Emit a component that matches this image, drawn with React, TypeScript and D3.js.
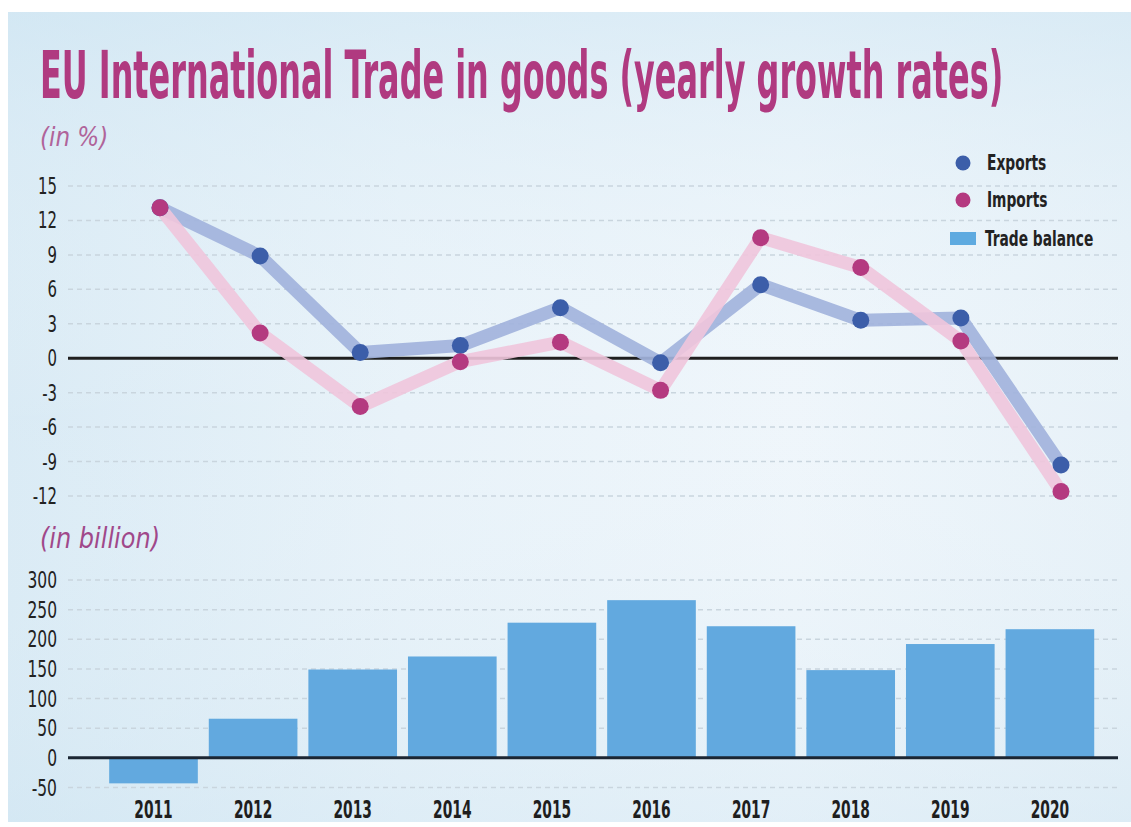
import React, { useLayoutEffect, useRef, useState } from "react";
import * as d3 from "d3";

const years = ["2011", "2012", "2013", "2014", "2015", "2016", "2017", "2018", "2019", "2020"];
const exportsGrowth = [13.1, 8.9, 0.5, 1.1, 4.4, -0.4, 6.4, 3.3, 3.5, -9.3];
const importsGrowth = [13.1, 2.2, -4.2, -0.3, 1.4, -2.8, 10.5, 7.9, 1.5, -11.6];
const tradeBalance = [-43, 66, 149, 171, 228, 266, 222, 148, 192, 217];
const topTicks = [15, 12, 9, 6, 3, 0, -3, -6, -9, -12];
const bottomTicks = [300, 250, 200, 150, 100, 50, 0, -50];

const W = 1131;
const H = 827;
const FONT = "'Liberation Sans Narrow','DejaVu Sans Condensed','Arial Narrow',sans-serif";

type STProps = {
  x: number;
  y: number;
  sx: number;
  anchor?: "start" | "middle" | "end";
  size: number;
  weight?: string;
  italic?: boolean;
  fill: string;
  children: React.ReactNode;
};

function SText({ x, y, sx, anchor = "start", size, weight, italic, fill, children }: STProps) {
  return (
    <text
      transform={`translate(${x},${y}) scale(${sx},1)`}
      textAnchor={anchor}
      fontFamily={FONT}
      fontSize={size}
      fontWeight={weight || "normal"}
      fontStyle={italic ? "italic" : "normal"}
      fill={fill}
    >
      {children}
    </text>
  );
}

function Title() {
  const ref = useRef<SVGTextElement>(null);
  const [sx, setSx] = useState(0.5);
  const target = 963;
  useLayoutEffect(() => {
    if (ref.current) {
      const w = ref.current.getComputedTextLength();
      if (w > 0) setSx(target / w);
    }
  }, []);
  return (
    <text
      ref={ref}
      transform={`translate(40,98) scale(${sx},1)`}
      fontFamily={FONT}
      fontWeight="bold"
      fontSize={66}
      fill="#b03a80"
    >
      EU International Trade in goods (yearly growth rates)
    </text>
  );
}

export default function App() {
  const yTop = d3.scaleLinear().domain([-12, 15]).range([496, 186]);
  const yBot = d3.scaleLinear().domain([-50, 300]).range([787.5, 580]);
  const xPoint = d3.scalePoint<string>().domain(years).range([160, 1061]);
  const xBand = d3
    .scaleBand<string>()
    .domain(years)
    .range([103.7, 1099.7])
    .paddingInner(0.11)
    .paddingOuter(0.055);

  const gridX0 = 68;
  const gridX1 = 1118;

  const line = d3
    .line<number>()
    .x((_, i) => xPoint(years[i]) as number)
    .y((d) => yTop(d));

  return (
    <svg
      width={W}
      height={H}
      style={{ position: "absolute", left: 0, top: 0, background: "#ffffff" }}
    >
      <defs>
        <linearGradient id="bg" x1="0" y1="0" x2="1" y2="0">
          <stop offset="0" stopColor="#d3e7f3" />
          <stop offset="0.35" stopColor="#e4f0f8" />
          <stop offset="0.7" stopColor="#ecf4fa" />
          <stop offset="1" stopColor="#e3eff7" />
        </linearGradient>
        <linearGradient id="bgv" x1="0" y1="0" x2="0" y2="1">
          <stop offset="0" stopColor="#d3e8f4" stopOpacity="0.6" />
          <stop offset="0.5" stopColor="#ffffff" stopOpacity="0.15" />
          <stop offset="1" stopColor="#d6e9f4" stopOpacity="0.45" />
        </linearGradient>
      </defs>
      <rect x={8} y={12} width={W - 8} height={810} fill="url(#bg)" />
      <rect x={8} y={12} width={W - 8} height={810} fill="url(#bgv)" />

      {/* Title */}
      <Title />
      <SText x={40} y={146} sx={0.95} size={27} italic fill="#b0649a">
        (in %)
      </SText>

      {/* Top grid */}
      {topTicks
        .filter((t) => t !== 0)
        .map((t) => (
          <line
            key={"tg" + t}
            x1={gridX0}
            x2={gridX1}
            y1={yTop(t)}
            y2={yTop(t)}
            stroke="#c9d5de"
            strokeWidth={1.5}
            strokeDasharray="5 4"
          />
        ))}
      {topTicks.map((t) => (
        <SText key={"tl" + t} x={57} y={yTop(t) + 8} sx={0.72} anchor="end" size={23} fill="#222">
          {t}
        </SText>
      ))}
      <line x1={gridX0} x2={gridX1} y1={yTop(0)} y2={yTop(0)} stroke="#1f1f1f" strokeWidth={3} />

      {/* Lines */}
      <path
        d={line(exportsGrowth) || ""}
        fill="none"
        stroke="#a2b3dc"
        strokeWidth={13}
        strokeLinejoin="round"
        opacity={0.92}
      />
      <path
        d={line(importsGrowth) || ""}
        fill="none"
        stroke="#f0c5db"
        strokeWidth={13}
        strokeLinejoin="round"
        opacity={0.9}
      />
      {exportsGrowth.map((v, i) => (
        <circle key={"ed" + i} cx={xPoint(years[i])} cy={yTop(v)} r={8.5} fill="#3c5ea9" />
      ))}
      {importsGrowth.map((v, i) => (
        <circle key={"id" + i} cx={xPoint(years[i])} cy={yTop(v)} r={8.5} fill="#b43a80" />
      ))}

      {/* Legend */}
      <circle cx={963} cy={163} r={7.5} fill="#3c5ea9" />
      <SText x={987} y={170} sx={0.73} size={21} weight="bold" fill="#222">
        Exports
      </SText>
      <circle cx={963} cy={200} r={7.5} fill="#b43a80" />
      <SText x={987} y={207} sx={0.73} size={21} weight="bold" fill="#222">
        Imports
      </SText>
      <rect x={950} y={232} width={26} height={13} fill="#5eaae0" />
      <SText x={985} y={246} sx={0.73} size={21} weight="bold" fill="#222">
        Trade balance
      </SText>

      {/* Bottom chart */}
      <SText x={40} y={548} sx={0.92} size={29} italic fill="#a0488a">
        (in billion)
      </SText>
      {bottomTicks
        .filter((t) => t !== 0)
        .map((t) => (
          <line
            key={"bg" + t}
            x1={gridX0}
            x2={gridX1}
            y1={yBot(t)}
            y2={yBot(t)}
            stroke="#c9d5de"
            strokeWidth={1.5}
            strokeDasharray="5 4"
          />
        ))}
      {bottomTicks.map((t) => (
        <SText key={"bl" + t} x={57} y={yBot(t) + 8} sx={0.75} anchor="end" size={23} fill="#222">
          {t}
        </SText>
      ))}
      {tradeBalance.map((v, i) => (
        <rect
          key={"bar" + i}
          x={xBand(years[i])}
          y={yBot(Math.max(0, v))}
          width={xBand.bandwidth()}
          height={Math.abs(yBot(v) - yBot(0))}
          fill="#62a9df"
        />
      ))}
      <line x1={gridX0} x2={gridX1} y1={yBot(0)} y2={yBot(0)} stroke="#1b2633" strokeWidth={3} />
      {years.map((y) => (
        <SText
          key={"yl" + y}
          x={(xBand(y) as number) + xBand.bandwidth() / 2}
          y={818}
          sx={0.64}
          anchor="middle"
          size={24}
          weight="bold"
          fill="#1e1e1e"
        >
          {y}
        </SText>
      ))}
    </svg>
  );
}
